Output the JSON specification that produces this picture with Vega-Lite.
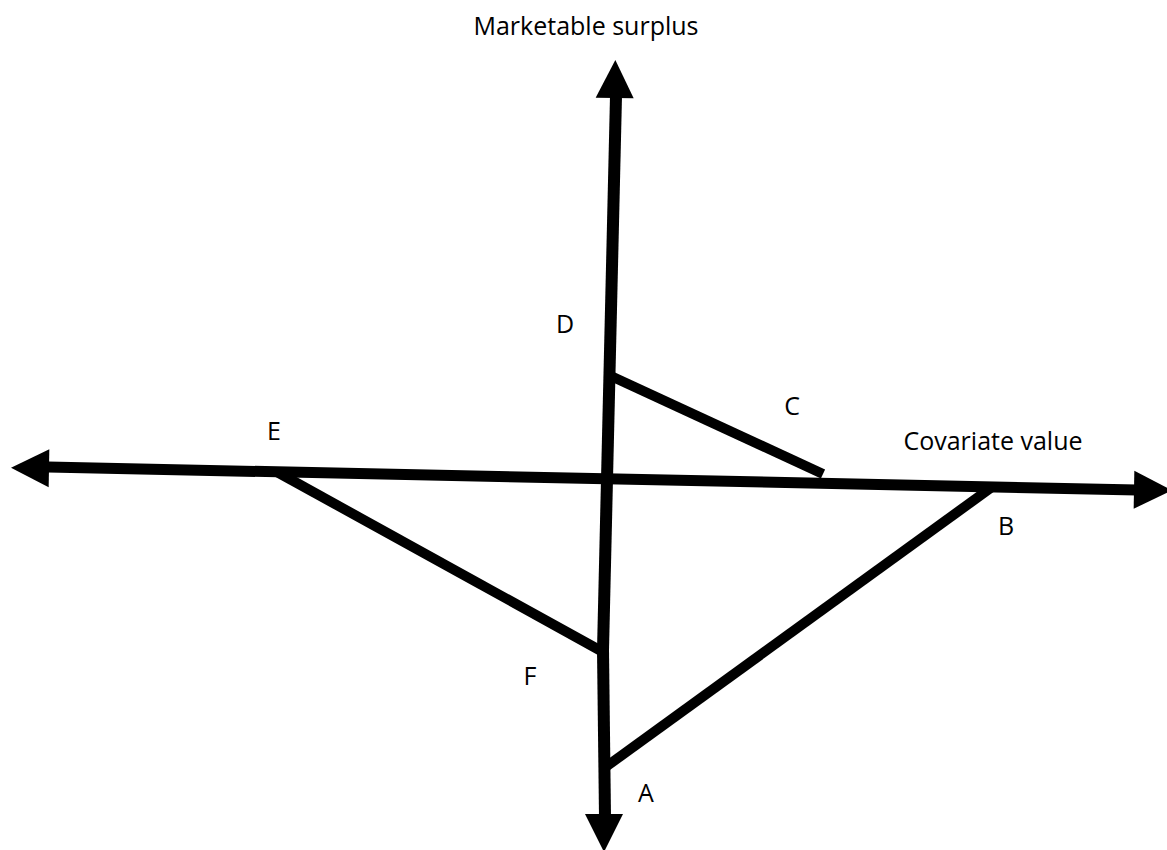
{
  "$schema": "https://vega.github.io/schema/vega-lite/v6.json",
  "width": 1167,
  "height": 850,
  "padding": 0,
  "autosize": {"type": "none"},
  "background": "white",
  "config": {"view": {"stroke": null}},
  "datasets": {
    "segments": [
      {"name": "vertical-upper", "x": 616, "y": 96, "x2": 603, "y2": 650, "w": 12},
      {"name": "vertical-lower", "x": 603, "y": 650, "x2": 605, "y2": 817, "w": 12},
      {"name": "horizontal", "x": 48, "y": 467, "x2": 1137, "y2": 490, "w": 11},
      {"name": "D-C", "x": 613, "y": 377, "x2": 823, "y2": 474, "w": 10},
      {"name": "E-F", "x": 277, "y": 472, "x2": 603, "y2": 652, "w": 10},
      {"name": "B-A", "x": 992, "y": 487, "x2": 607, "y2": 766, "w": 10}
    ],
    "arrows": [
      {"name": "up", "x": 615, "y": 79, "angle": 1},
      {"name": "down", "x": 604, "y": 833, "angle": 180},
      {"name": "left", "x": 30, "y": 468, "angle": 271},
      {"name": "right", "x": 1153, "y": 490, "angle": 91}
    ],
    "labels": [
      {"text": "Marketable surplus", "x": 586, "y": 35},
      {"text": "D", "x": 565, "y": 333},
      {"text": "C", "x": 792, "y": 415},
      {"text": "E", "x": 274, "y": 440},
      {"text": "Covariate value", "x": 993, "y": 450},
      {"text": "B", "x": 1006, "y": 535},
      {"text": "F", "x": 530, "y": 685},
      {"text": "A", "x": 646, "y": 802}
    ]
  },
  "layer": [
    {
      "data": {"name": "segments"},
      "mark": {"type": "rule", "color": "#000000", "strokeCap": "butt"},
      "encoding": {
        "x": {"field": "x", "type": "quantitative", "scale": {"domain": [0, 1167], "nice": false, "zero": false}, "axis": null},
        "y": {"field": "y", "type": "quantitative", "scale": {"domain": [0, 850], "nice": false, "zero": false, "reverse": true}, "axis": null},
        "x2": {"field": "x2"},
        "y2": {"field": "y2"},
        "strokeWidth": {"field": "w", "type": "quantitative", "scale": null, "legend": null}
      }
    },
    {
      "data": {"name": "arrows"},
      "mark": {"type": "point", "shape": "M0,-1L1,1L-1,1Z", "filled": true, "color": "#000000", "opacity": 1, "size": 1444, "strokeWidth": 0},
      "encoding": {
        "x": {"field": "x", "type": "quantitative", "scale": {"domain": [0, 1167], "nice": false, "zero": false}, "axis": null},
        "y": {"field": "y", "type": "quantitative", "scale": {"domain": [0, 850], "nice": false, "zero": false, "reverse": true}, "axis": null},
        "angle": {"field": "angle", "type": "quantitative", "scale": null}
      }
    },
    {
      "data": {"name": "labels"},
      "mark": {"type": "text", "font": "Open Sans", "fontSize": 25, "fontWeight": 500, "color": "#000000", "align": "center", "baseline": "alphabetic"},
      "encoding": {
        "x": {"field": "x", "type": "quantitative", "scale": {"domain": [0, 1167], "nice": false, "zero": false}, "axis": null},
        "y": {"field": "y", "type": "quantitative", "scale": {"domain": [0, 850], "nice": false, "zero": false, "reverse": true}, "axis": null},
        "text": {"field": "text", "type": "nominal"}
      }
    }
  ]
}
